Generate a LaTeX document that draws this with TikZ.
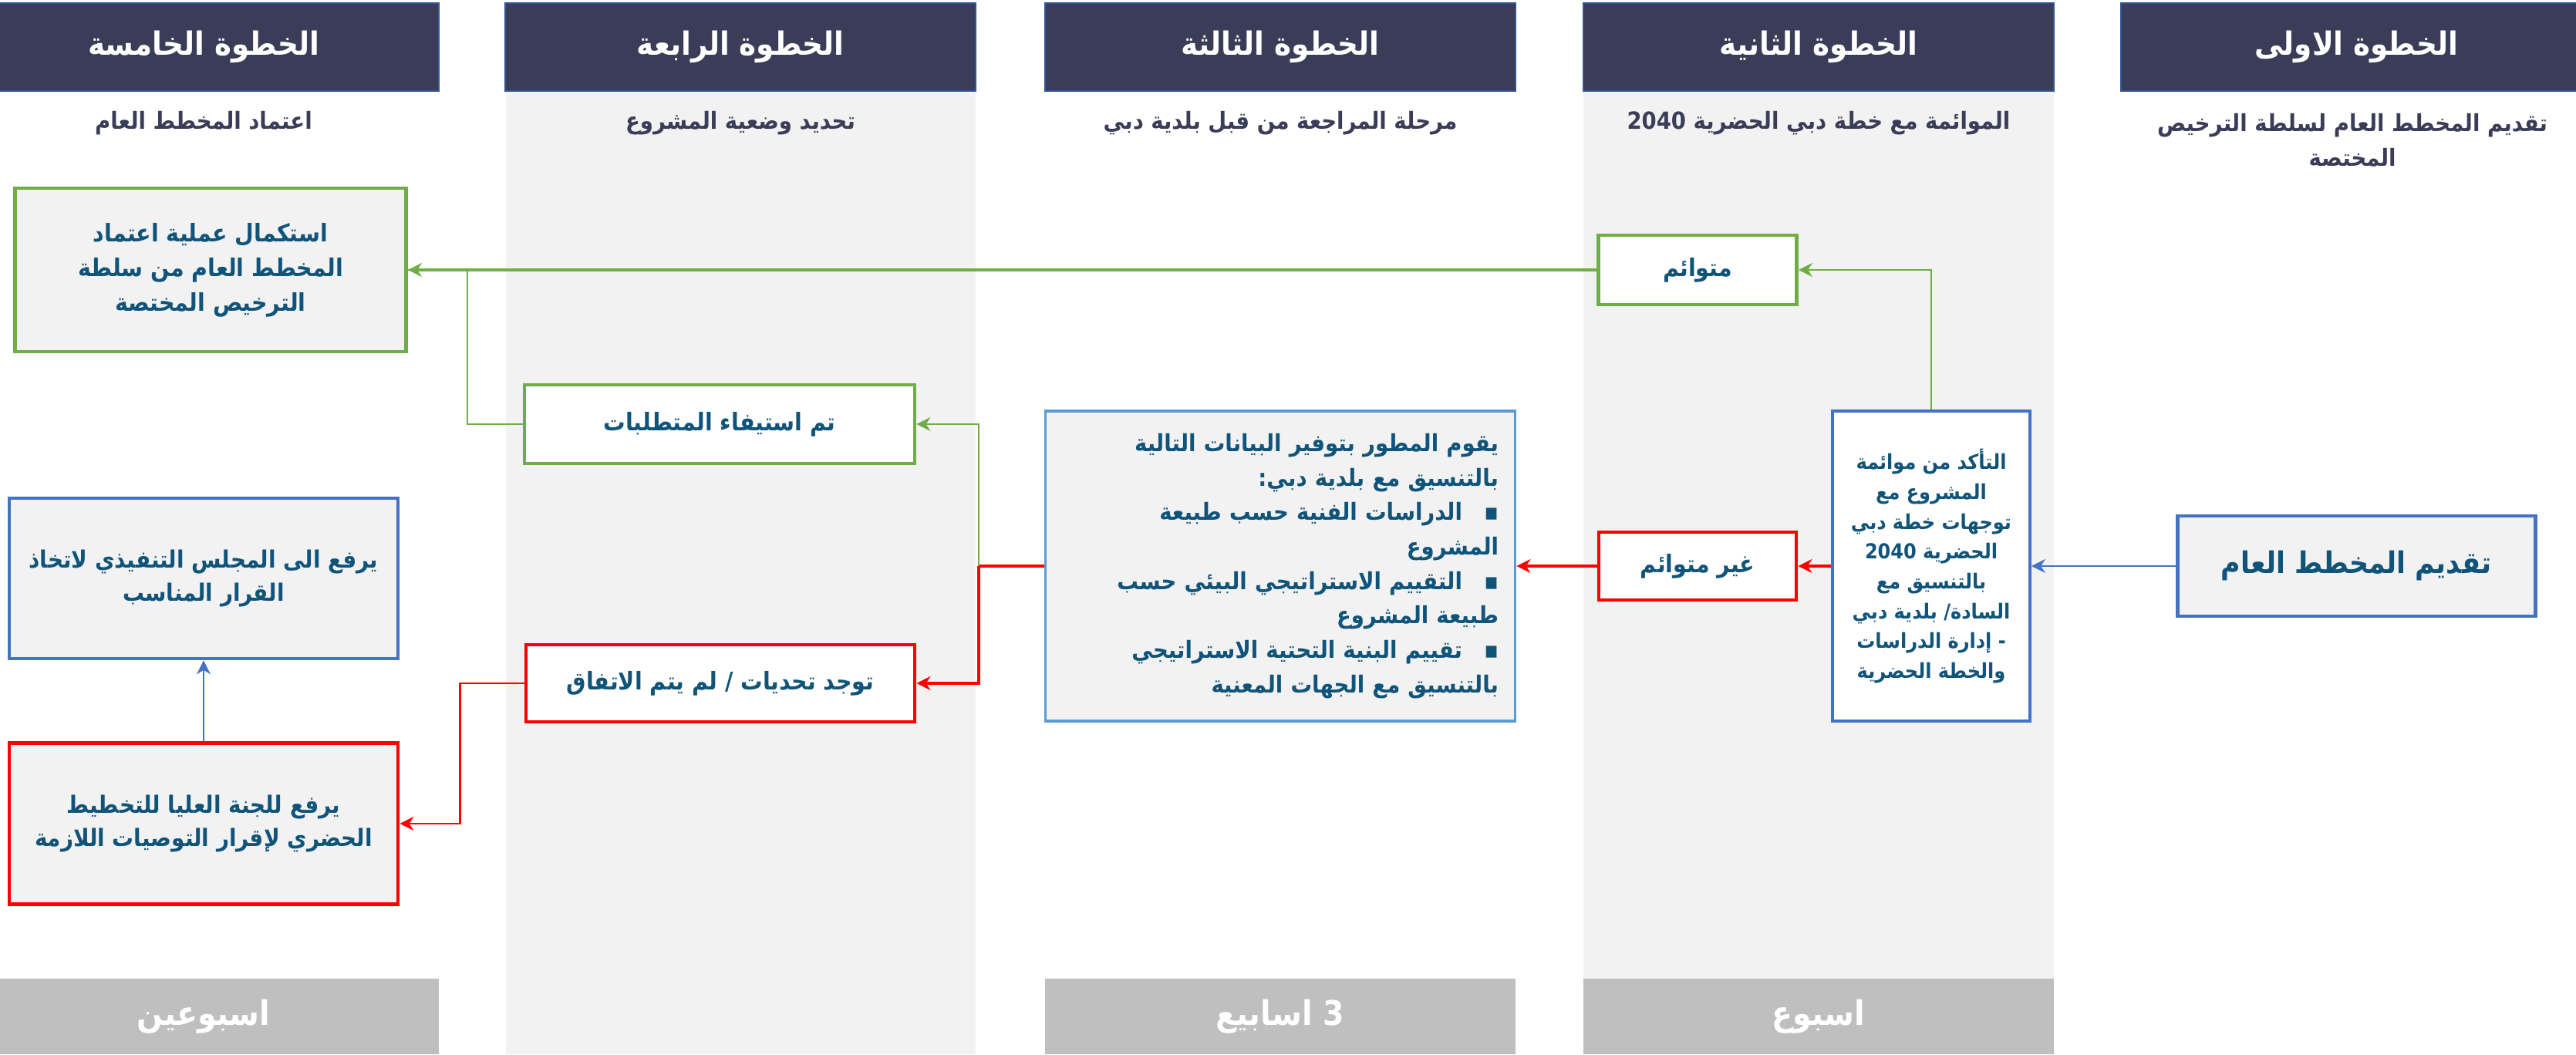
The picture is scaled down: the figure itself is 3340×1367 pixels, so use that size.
\documentclass[tikz,border=0pt]{standalone}
\usepackage{fontspec}
\setmainfont{DejaVu Sans}
\newfontfamily\arabicfont[Script=Arabic]{DejaVu Sans Condensed}
\TeXXeTstate=1
\usetikzlibrary{arrows.meta}

\definecolor{kopf}{RGB}{59,61,88}
\definecolor{kopfrand}{RGB}{47,85,151}
\definecolor{spalte}{RGB}{242,242,242}
\definecolor{wochen}{RGB}{191,191,191}
\definecolor{gruen}{RGB}{112,173,71}
\definecolor{rot}{RGB}{255,0,0}
\definecolor{blau}{RGB}{68,114,196}
\definecolor{hellblau}{RGB}{91,155,213}
\definecolor{boxtext}{RGB}{16,84,122}

\newcommand{\rl}[1]{\beginR #1\endR}

\begin{document}
\begin{tikzpicture}[x=0.1mm, y=-0.1mm,
      stephead/.style={rectangle, fill=kopf, draw=kopfrand, line width=0.8pt, minimum width=61mm, minimum height=11.4mm, text=white, font=\arabicfont\bfseries\fontsize{11.8}{14}\selectfont},
      stepsub/.style={align=center, text=kopf, font=\arabicfont\bfseries\fontsize{8.7}{12.8}\selectfont},
      weekbox/.style={rectangle, fill=wochen, minimum width=61mm, minimum height=9.8mm, text=white, font=\arabicfont\bfseries\fontsize{12.5}{15}\selectfont},
      box/.style={rectangle, line width=1.4pt, align=center, inner sep=2pt, text=boxtext, font=\arabicfont\bfseries\fontsize{9}{12.8}\selectfont},
      okbox/.style={box, draw=gruen},
      nobox/.style={box, draw=rot},
      infobox/.style={box, draw=blau},
      gdick/.style={draw=gruen, line width=0.9pt},
      gduenn/.style={draw=gruen, line width=0.6pt},
      rdick/.style={draw=rot, line width=0.9pt},
      rduenn/.style={draw=rot, line width=0.6pt},
      bduenn/.style={draw=blau, line width=0.6pt},
      pfeil/.style={-{Stealth[length=1.8mm,width=1.8mm]}}]

\path[fill=white, use as bounding box] (0,0) rectangle (3340,1367);

% grey columns
\fill[spalte] (656,118) rectangle (1265,1367);
\fill[spalte] (2053,118) rectangle (2663,1367);

% steps
\node[stephead] (h5) at (264,61) {\rl{الخطوة الخامسة}};
\node[stephead] (h4) at (960,61) {\rl{الخطوة الرابعة}};
\node[stephead] (h3) at (1660,61) {\rl{الخطوة الثالثة}};
\node[stephead] (h2) at (2358,61) {\rl{الخطوة الثانية}};
\node[stephead] (h1) at (3055,61) {\rl{الخطوة الاولى}};

\node[stepsub] (s5) at (264,160) {\rl{اعتماد المخطط العام}};
\node[stepsub] (s4) at (960,160) {\rl{تحديد وضعية المشروع}};
\node[stepsub] (s3) at (1660,160) {\rl{مرحلة المراجعة من قبل بلدية دبي}};
\node[stepsub] (s2) at (2358,160) {\rl{الموائمة مع خطة دبي الحضرية \beginL2040\endL}};
\node[stepsub] (s1) at (3050,182) {\rl{تقديم المخطط العام لسلطة الترخيص}\\ \rl{المختصة}};

\node[weekbox] (w5) at (264,1318) {\rl{اسبوعين}};
\node[weekbox] (w3) at (1660,1318) {\rl{3 اسابيع}};
\node[weekbox] (w2) at (2358,1318) {\rl{اسبوع}};

% boxes
\node[infobox, fill=spalte, minimum width=46.4mm, minimum height=13mm, font=\arabicfont\bfseries\fontsize{11}{14}\selectfont] (F) at (3055,734) {\rl{تقديم المخطط العام}};
\node[infobox, fill=white, line width=1.1pt, minimum width=25.6mm, minimum height=40.2mm, font=\arabicfont\bfseries\fontsize{7.6}{11}\selectfont] (E) at (2504,734) {\rl{التأكد من موائمة}\\ \rl{المشروع مع}\\ \rl{توجهات خطة دبي}\\ \rl{الحضرية  \beginL2040\endL}\\ \rl{بالتنسيق مع}\\ \rl{السادة/ بلدية دبي}\\ \rl{- إدارة الدراسات}\\ \rl{والخطة الحضرية}};
\node[okbox, fill=white, minimum width=25.7mm, minimum height=9mm] (C) at (2201,350) {\rl{متوائم}};
\node[nobox, fill=white, minimum width=25.6mm, minimum height=8.8mm] (D) at (2201,734) {\rl{غير متوائم}};
\node[box, draw=hellblau, fill=spalte, line width=1.1pt, align=right, text width=56.6mm, minimum width=60.9mm, minimum height=40.2mm, font=\arabicfont\bfseries\fontsize{8.7}{12.7}\selectfont] (G) at (1660,734) {\rl{يقوم المطور بتوفير البيانات التالية}\\ \rl{بالتنسيق مع بلدية دبي:}\\ \rl{الدراسات الفنية حسب طبيعة}\makebox[4.7mm][r]{▪}\\ \rl{المشروع}\hspace{4.7mm}\\ \rl{التقييم الاستراتيجي البيئي حسب}\makebox[4.7mm][r]{▪}\\ \rl{طبيعة المشروع}\hspace{4.7mm}\\ \rl{تقييم البنية التحتية الاستراتيجي}\makebox[4.7mm][r]{▪}\\ \rl{بالتنسيق مع الجهات المعنية}\hspace{4.7mm}};
\node[okbox, fill=white, minimum width=50.6mm, minimum height=10.2mm] (B) at (933,550) {\rl{تم استيفاء المتطلبات}};
\node[nobox, fill=white, minimum width=50.4mm, minimum height=10mm] (H) at (934,886) {\rl{توجد تحديات / لم يتم الاتفاق}};
\node[okbox, fill=spalte, minimum width=50.7mm, minimum height=21.2mm] (A) at (273,350) {\rl{استكمال عملية اعتماد}\\ \rl{المخطط العام من سلطة}\\ \rl{الترخيص المختصة}};
\node[infobox, fill=spalte, minimum width=50.4mm, minimum height=20.8mm, font=\arabicfont\bfseries\fontsize{8.8}{12}\selectfont] (I) at (264,750) {\rl{يرفع الى المجلس التنفيذي لاتخاذ}\\ \rl{القرار المناسب}};
\node[nobox, fill=spalte, minimum width=50.4mm, minimum height=20.9mm, font=\arabicfont\bfseries\fontsize{8.8}{12}\selectfont] (J) at (264,1068) {\rl{يرفع للجنة العليا للتخطيط}\\ \rl{الحضري لإقرار التوصيات اللازمة}};

% connectors
\coordinate (weiche) at (1269,734);
\draw[bduenn,pfeil] (F.west) -- (E.east);
\draw[rdick,pfeil] (E.west) -- (D.east);
\draw[gduenn,pfeil] (E.north) |- (C.east);
\draw[gdick,pfeil] (C.west) -- (A.east);
\draw[rdick,pfeil] (D.west) -- (G.east);
\draw[rdick] (G.west) -- (weiche);
\draw[gduenn,pfeil] (weiche) |- (B.east);
\draw[rdick,pfeil] (weiche) |- (H.east);
\draw[gduenn] (B.west) -| ([xshift=7.7mm]A.east) -- (A.east);
\draw[rduenn,pfeil] (H.west) -- ++(-83,0) |- (J.east);
\draw[bduenn,pfeil] (J.north) -- (I.south);

\end{tikzpicture}
\end{document}
